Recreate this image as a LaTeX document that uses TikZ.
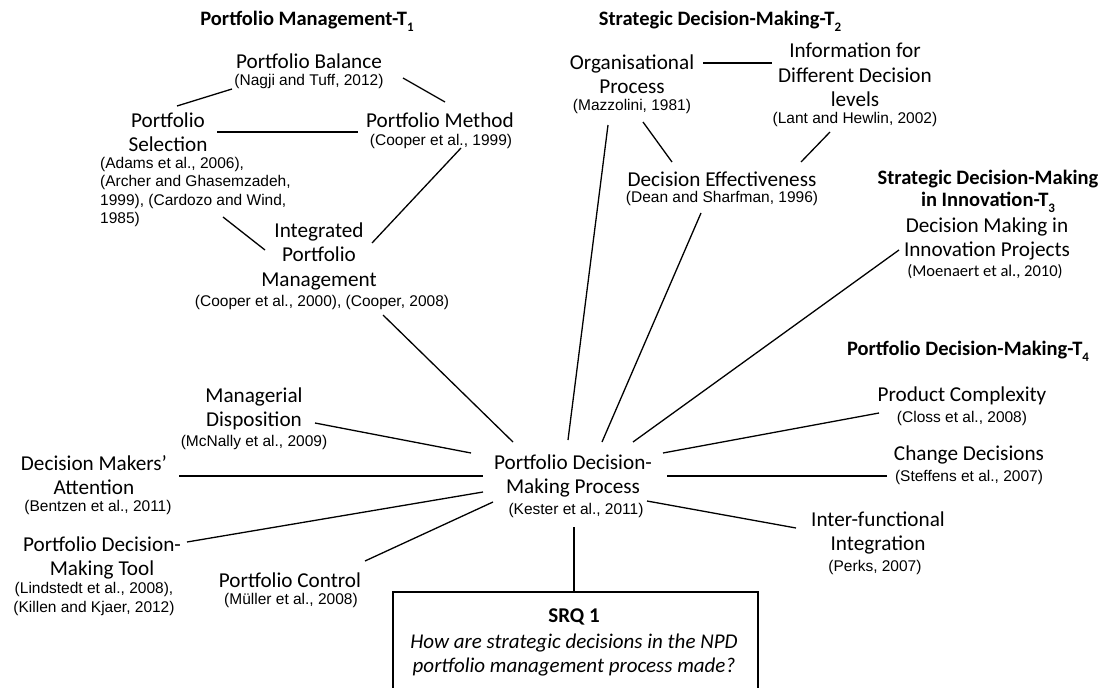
\documentclass[tikz,border=0pt]{standalone}
\usepackage{fontspec}
\setmainfont{Carlito}
\newfontfamily\citefont{Liberation Sans}
\newcommand\tsub[1]{\raisebox{-0.28em}{\fontsize{13}{13}\selectfont #1}}
\begin{document}
\begin{tikzpicture}[x=1pt,y=-1pt,
  title/.style={font=\fontsize{21.2}{24.5}\selectfont, align=center, inner sep=0pt},
  cite/.style={font=\citefont\fontsize{15.5}{18.5}\selectfont, align=center, inner sep=0pt},
  smallcite/.style={font=\fontsize{16.5}{19}\selectfont, align=center, inner sep=0pt},
  head/.style={font=\bfseries\fontsize{20.5}{22}\selectfont, align=center, inner sep=0pt},
  link/.style={line width=1.3pt, black}]
\clip (0,0) rectangle (1104,688);
\fill[white] (0,0) rectangle (1104,688);

% theme headings
\node[head] (h1) at (307,21) {Portfolio Management-T\tsub{1}};
\node[head] (h2) at (720,21) {Strategic Decision-Making-T\tsub{2}};
\node[head] (h3) at (988,191) {Strategic Decision-Making\\in Innovation-T\tsub{3}};
\node[head] (h4) at (968,351) {Portfolio Decision-Making-T\tsub{4}};

% T1: portfolio management
\node[title] (bal) at (309,61) {Portfolio Balance};
\node[cite] (balc) at (309,81) {(Nagji and Tuff, 2012)};
\node[title] (sel) at (168,132) {Portfolio\\Selection};
\node[cite, align=left, anchor=west] (selc) at (100,192) {(Adams et al., 2006),\\(Archer and Ghasemzadeh,\\1999), (Cardozo and Wind,\\1985)};
\node[title] (meth) at (440,120) {Portfolio Method};
\node[cite] (methc) at (441,141) {(Cooper et al., 1999)};
\node[title] (ipm) at (319,256) {Integrated\\Portfolio\\Management};
\node[cite] (ipmc) at (322,302) {(Cooper et al., 2000), (Cooper, 2008)};

% T2: strategic decision-making
\node[title] (org) at (632,74) {Organisational\\Process};
\node[cite] (orgc) at (632,106) {(Mazzolini, 1981)};
\node[title] (info) at (855,75) {Information for\\Different Decision\\levels};
\node[cite] (infoc) at (855,119) {(Lant and Hewlin, 2002)};
\node[title] (eff) at (722,179) {Decision Effectiveness};
\node[cite] (effc) at (722,198) {(Dean and Sharfman, 1996)};

% T3: strategic decision-making in innovation
\node[title] (dmi) at (987,239) {Decision Making in\\Innovation Projects};
\node[smallcite] (dmic) at (985,272) {(Moenaert et al., 2010)};

% T4: portfolio decision-making
\node[title] (pc) at (962,396) {Product Complexity};
\node[cite] (pcc) at (962,418) {(Closs et al., 2008)};
\node[title] (cd) at (969,455) {Change Decisions};
\node[cite] (cdc) at (969,477) {(Steffens et al., 2007)};
\node[title] (ifi) at (878,533) {Inter-functional\\Integration};
\node[cite] (ific) at (875,567) {(Perks, 2007)};
\node[title] (mgr) at (254,409) {Managerial\\Disposition};
\node[cite] (mgrc) at (254,442) {(McNally et al., 2009)};
\node[title] (att) at (94,475) {Decision Makers’\\Attention};
\node[cite] (attc) at (98,507) {(Bentzen et al., 2011)};
\node[title] (tool) at (102,558) {Portfolio Decision-\\Making Tool};
\node[cite] (toolc) at (94,599) {(Lindstedt et al., 2008),\\(Killen and Kjaer, 2012)};
\node[title] (ctl) at (290,580) {Portfolio Control};
\node[cite] (ctlc) at (291,600) {(Müller et al., 2008)};

% central concept
\node[title] (ctr) at (573,476) {Portfolio Decision-\\Making Process};
\node[cite] (ctrc) at (576,510) {(Kester et al., 2011)};

% sub-research question
\node[draw, line width=1.5pt, anchor=north west, minimum width=365pt, minimum height=120pt, inner sep=0pt] (srqbox) at (392,591) {};
\node[title, font=\bfseries\fontsize{21}{24.5}\selectfont] (srqt) at (574,617) {SRQ 1};
\node[title, font=\itshape\fontsize{21}{23.5}\selectfont] (srqq) at (574,655) {How are strategic decisions in the NPD\\portfolio management process made?};

% connector end points
\coordinate (balA) at (232,89);   \coordinate (selA) at (177,106);
\coordinate (balB) at (403,78);   \coordinate (methA) at (445,102);
\coordinate (selB) at (217,132);  \coordinate (methB) at (358,132);
\coordinate (selC) at (223,217);  \coordinate (ipmA) at (265,250);
\coordinate (methC) at (461,148); \coordinate (ipmB) at (372,243);
\coordinate (ipmC) at (383,315);  \coordinate (ctrA) at (513,442);
\coordinate (orgA) at (703,63);   \coordinate (infoA) at (772,63);
\coordinate (infoB) at (830,132); \coordinate (effA) at (801,162);
\coordinate (orgB) at (643,122);  \coordinate (effB) at (672,162);
\coordinate (orgC) at (608,125);  \coordinate (ctrB) at (568,440);
\coordinate (effC) at (701,213);  \coordinate (ctrC) at (602,442);
\coordinate (dmiA) at (899,250);  \coordinate (ctrD) at (633,442);
\coordinate (pcA) at (879,413);   \coordinate (ctrE) at (663,453);
\coordinate (cdA) at (887,476);   \coordinate (ctrF) at (667,476);
\coordinate (ifiA) at (796,528);  \coordinate (ctrG) at (647,501);
\coordinate (mgrA) at (315,423);  \coordinate (ctrH) at (471,453);
\coordinate (attA) at (179,476);  \coordinate (ctrI) at (483,476);
\coordinate (toolA) at (187,542); \coordinate (ctrJ) at (483,492);
\coordinate (ctlA) at (365,561);  \coordinate (ctrK) at (493,502);
\coordinate (ctrL) at (574,527);

% connectors
\draw[link] (balA) -- (selA);
\draw[link] (balB) -- (methA);
\draw[link] (selB) -- (methB);
\draw[link] (selC) -- (ipmA);
\draw[link] (methC) -- (ipmB);
\draw[link] (ipmC) -- (ctrA);
\draw[link] (orgA) -- (infoA);
\draw[link] (infoB) -- (effA);
\draw[link] (orgB) -- (effB);
\draw[link] (orgC) -- (ctrB);
\draw[link] (effC) -- (ctrC);
\draw[link] (dmiA) -- (ctrD);
\draw[link] (pcA) -- (ctrE);
\draw[link] (cdA) -- (ctrF);
\draw[link] (ifiA) -- (ctrG);
\draw[link] (mgrA) -- (ctrH);
\draw[link] (attA) -- (ctrI);
\draw[link] (toolA) -- (ctrJ);
\draw[link] (ctlA) -- (ctrK);
\draw[link] (ctrL) -- (srqbox.north -| ctrL);
\end{tikzpicture}
\end{document}
